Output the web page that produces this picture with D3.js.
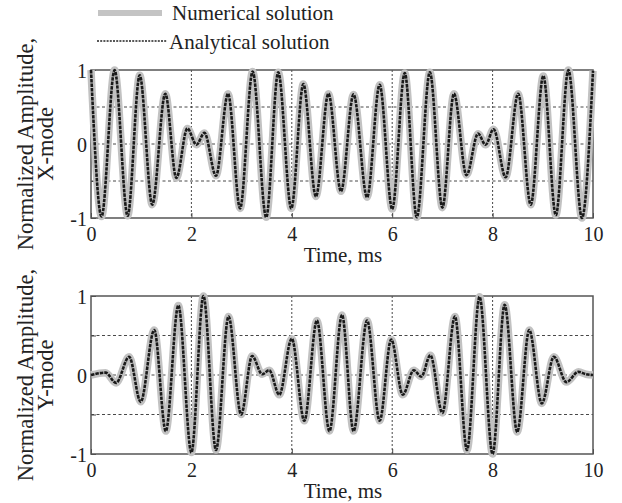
<!DOCTYPE html>
<html>
<head>
<meta charset="utf-8">
<script src="https://cdn.jsdelivr.net/npm/d3@7/dist/d3.min.js"></script>
<style>
  html, body { margin: 0; padding: 0; background: #fff; }
  svg { display: block; }
  text { font-family: "Liberation Serif", "Times New Roman", serif; fill: #222; }
</style>
</head>
<body>
<svg id="chart" width="622" height="503"></svg>
<script>
// Turning points (time in ms, normalized amplitude) of the X-mode response
const xModeTime = [0, 0.21, 0.47, 0.73, 0.97, 1.22, 1.48, 1.70, 1.92, 2.10, 2.26, 2.49, 2.73, 2.97,
  3.22, 3.49, 3.73, 3.99, 4.23, 4.48, 4.73, 4.98, 5.23, 5.50, 5.75, 6.00, 6.25, 6.49, 6.75, 7.00,
  7.23, 7.48, 7.71, 7.86, 8.02, 8.26, 8.51, 8.76, 9.01, 9.26, 9.51, 9.78, 10];
const xModeAmp = [1, -0.98, 1, -0.97, 0.93, -0.82, 0.68, -0.46, 0.21, -0.01, 0.15, -0.43, 0.68, -0.87,
  0.98, -0.99, 0.97, -0.87, 0.81, -0.71, 0.68, -0.64, 0.67, -0.72, 0.80, -0.88, 0.96, -0.99, 0.97, -0.86,
  0.68, -0.42, 0.14, -0.01, 0.20, -0.45, 0.68, -0.82, 0.92, -0.96, 1.0, -1.0, 0.99];

// Turning points of the Y-mode response
const yModeTime = [0, 0.29, 0.50, 0.76, 0.99, 1.26, 1.49, 1.74, 2.00, 2.24, 2.49, 2.74, 2.99, 3.21,
  3.41, 3.55, 3.75, 4.00, 4.25, 4.50, 4.75, 5.00, 5.23, 5.50, 5.75, 5.98, 6.21, 6.43, 6.58, 6.76,
  7.00, 7.25, 7.49, 7.74, 8.00, 8.24, 8.49, 8.73, 8.98, 9.22, 9.47, 9.71, 9.86, 10];
const yModeAmp = [0, 0.03, -0.10, 0.23, -0.34, 0.57, -0.71, 0.88, -0.98, 1.0, -0.95, 0.74, -0.50, 0.24,
  0.01, 0.06, -0.25, 0.46, -0.58, 0.69, -0.71, 0.76, -0.71, 0.69, -0.58, 0.45, -0.25, 0.06, -0.02, 0.25,
  -0.48, 0.74, -0.95, 0.99, -1.0, 0.89, -0.72, 0.57, -0.36, 0.23, -0.09, 0.04, 0.01, 0];

const timeTicks = [0, 2, 4, 6, 8, 10];
const ampLabelTicks = [-1, 0, 1];
const ampGrid = [-0.5, 0, 0.5];
const timeGrid = [2, 4, 6, 8];
const legendLabels = ["Numerical solution", "Analytical solution"];
const panelLabels = [["Normalized Amplitude,", "X-mode"], ["Normalized Amplitude,", "Y-mode"]];
const xLabel = "Time, ms";

const svg = d3.select("#chart");

const panels = [
  { t: xModeTime, v: xModeAmp, top: 70, bottom: 218, labels: panelLabels[0] },
  { t: yModeTime, v: yModeAmp, top: 296, bottom: 454, labels: panelLabels[1] }
];

const left = 91, right = 593;
const x = d3.scaleLinear().domain([0, 10]).range([left, right]);

panels.forEach(p => {
  const y = d3.scaleLinear().domain([-1, 1]).range([p.bottom, p.top]);
  const g = svg.append("g");

  // dotted grid
  g.selectAll("line.hg").data(ampGrid).join("line")
    .attr("x1", left).attr("x2", right)
    .attr("y1", d => y(d)).attr("y2", d => y(d))
    .attr("stroke", "#333").attr("stroke-width", 0.9).attr("stroke-dasharray", "3,2.5");
  g.selectAll("line.vg").data(timeGrid).join("line")
    .attr("x1", d => x(d)).attr("x2", d => x(d))
    .attr("y1", p.top).attr("y2", p.bottom)
    .attr("stroke", "#333").attr("stroke-width", 0.9).attr("stroke-dasharray", "2,2");

  // axes with inward ticks
  const xAxis = d3.axisBottom(x).tickValues(timeTicks).tickSize(-5).tickPadding(9);
  const yAxis = d3.axisLeft(y).tickValues([-1, -0.5, 0, 0.5, 1]).tickSize(-5).tickPadding(4)
    .tickFormat(d => ampLabelTicks.includes(d) ? (d < 0 ? "-" + Math.abs(d) : String(d)) : "");
  const xa = g.append("g").attr("transform", `translate(0,${p.bottom})`).call(xAxis);
  const ya = g.append("g").attr("transform", `translate(${left},0)`).call(yAxis);
  [xa, ya].forEach(a => {
    a.select(".domain").remove();
    a.selectAll("line").attr("stroke", "#444");
    a.selectAll("text").attr("font-size", 20).attr("fill", "#222")
      .style("font-family", "'Liberation Serif', serif");
  });
  ya.selectAll("text").attr("dy", "0.36em");

  // frame
  g.append("rect").attr("x", left).attr("y", p.top)
    .attr("width", right - left).attr("height", p.bottom - p.top)
    .attr("fill", "none").attr("stroke", "#555").attr("stroke-width", 1.5);

  const pts = p.t.map((t, i) => [t, p.v[i]]);
  const line = d3.line().x(d => x(d[0])).y(d => y(d[1])).curve(d3.curveMonotoneX);

  // numerical (wide grey) and analytical (dotted black) traces
  g.append("path").attr("d", line(pts)).attr("fill", "none")
    .attr("stroke", "#c2c2c2").attr("stroke-width", 7.5).attr("stroke-linejoin", "round");
  g.append("path").attr("d", line(pts)).attr("fill", "none")
    .attr("stroke", "#1a1a1a").attr("stroke-width", 2.6).attr("stroke-dasharray", "3.5,1");

  // axis titles
  g.append("text").attr("x", 343).attr("y", p.bottom + 44)
    .attr("text-anchor", "middle").attr("font-size", 21).text(xLabel);
  const cy = (p.top + p.bottom) / 2;
  g.append("text").attr("transform", `translate(33,${cy}) rotate(-90)`)
    .attr("text-anchor", "middle").attr("font-size", 22.5).text(p.labels[0]);
  g.append("text").attr("transform", `translate(53,${cy}) rotate(-90)`)
    .attr("text-anchor", "middle").attr("font-size", 22.5).text(p.labels[1]);
});

// legend
const lg = svg.append("g");
lg.append("line").attr("x1", 98).attr("x2", 162).attr("y1", 13).attr("y2", 13)
  .attr("stroke", "#c4c4c4").attr("stroke-width", 6);
lg.append("line").attr("x1", 97).attr("x2", 167).attr("y1", 41).attr("y2", 41)
  .attr("stroke", "#222").attr("stroke-width", 1.3).attr("stroke-dasharray", "2,1.2");
lg.selectAll("text").data(legendLabels).join("text")
  .attr("x", (d, i) => i === 0 ? 172 : 169)
  .attr("y", (d, i) => 20 + i * 29)
  .attr("font-size", 21).text(d => d);
</script>
</body>
</html>
